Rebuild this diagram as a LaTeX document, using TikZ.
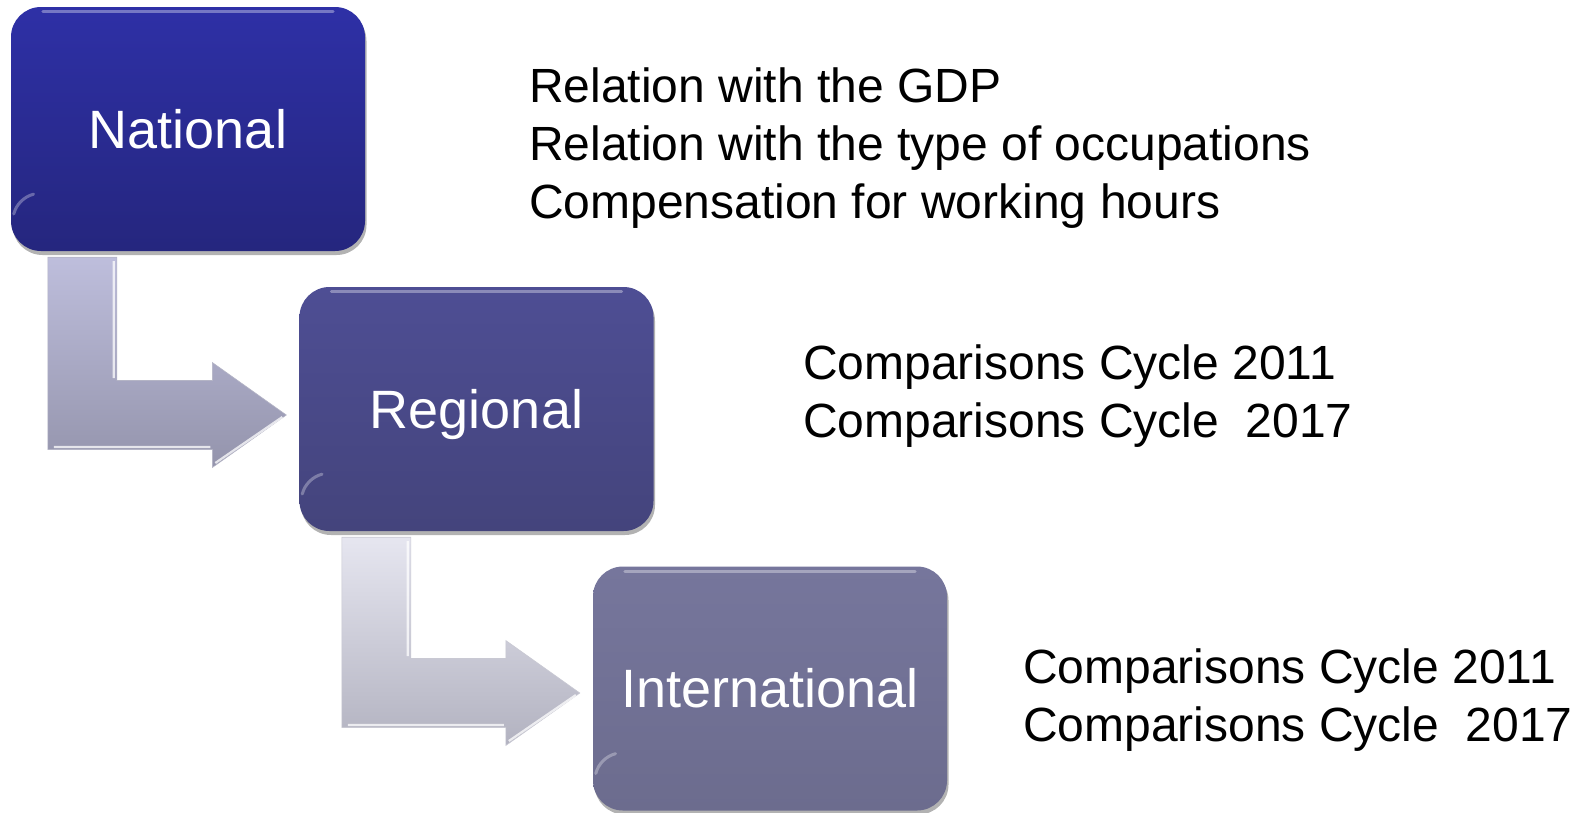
\documentclass[tikz,border=0pt]{standalone}
\usepackage{fontspec}
\setmainfont{Liberation Sans}
\usetikzlibrary{calc,shadows}
\definecolor{natTop}{RGB}{46,48,166}
\definecolor{natBot}{RGB}{37,38,126}
\definecolor{regTop}{RGB}{78,78,148}
\definecolor{regBot}{RGB}{68,68,124}
\definecolor{intTop}{RGB}{118,118,156}
\definecolor{intBot}{RGB}{108,108,142}
\definecolor{arAtop}{RGB}{190,190,220}
\definecolor{arAbot}{RGB}{148,148,172}
\definecolor{arBtop}{RGB}{230,230,240}
\definecolor{arBbot}{RGB}{178,178,192}
\newcommand\mybentarrow[4]{%
  \path[top color=#3, bottom color=#4, draw=#4!70!white, line width=0.6pt]
    let \p1=#1, \p2=#2 in
    (\x1,\y1) -- (\x1+69pt,\y1) -- (\x1+69pt,\y2+34.5pt) -- (\x2-74pt,\y2+34.5pt)
    -- (\x2-74pt,\y2+52.5pt) -- (\x2,\y2) -- (\x2-74pt,\y2-52.5pt)
    -- (\x2-74pt,\y2-34.5pt) -- (\x1,\y2-34.5pt) -- cycle;
  \path[draw=white, opacity=0.75, line width=2.2pt]
    let \p1=#1, \p2=#2 in
    (\x1+66pt,\y1-4pt) -- (\x1+66pt,\y2+37pt)
    (\x1+6pt,\y2-32pt) -- (\x2-76pt,\y2-32pt)
    (\x2-71pt,\y2-48pt) -- (\x2-4pt,\y2-2pt);
}
\begin{document}
\begin{tikzpicture}[x=1pt,y=-1pt,
  levelbox/.style={rectangle, rounded corners=30pt, minimum width=354pt,
    minimum height=244pt, inner sep=0pt, text=white,
    font=\fontsize{54}{60}\selectfont, text height=38.7pt, text depth=0pt,
    drop shadow={shadow xshift=1.5pt, shadow yshift=-4pt, opacity=0.3, fill=black}},
  infotext/.style={anchor=base west, inner sep=0pt, align=left,
    font=\fontsize{48}{58}\selectfont, text=black},
  rim/.style={draw=white, opacity=0.35, line width=3pt, line cap=round}
]
\useasboundingbox (0,0) rectangle (1589,812);
\fill[white] (0,0) rectangle (1589,812);

\node[levelbox, top color=natTop, bottom color=natBot] (nat) at (188,129) {National};
\node[levelbox, top color=regTop, bottom color=regBot] (reg) at (476.5,409) {Regional};
\node[levelbox, top color=intTop, bottom color=intBot] (int) at (770,688.5) {International};

\foreach \b in {nat,reg,int}{
  \draw[rim] ($(\b.north west)+(32,5)$) -- ($(\b.north east)+(-32,5)$);
  \draw[draw=white, opacity=0.3, line width=3pt, line cap=round]
    ($(\b.south west)+(30,-30)$) ++(195:28) arc[start angle=195, end angle=255, radius=28];
}

\mybentarrow{($(nat.south west)+(37,6)$)}{($(reg.west)+(-13,6)$)}{arAtop}{arAbot}
\mybentarrow{($(reg.south west)+(42.5,6)$)}{($(int.west)+(-13,4.5)$)}{arBtop}{arBbot}

\node[infotext] (t1) at (529,218) {Relation with the GDP\\Relation with the type of occupations\\Compensation for working hours};
\node[infotext] (t2) at (803,437) {Comparisons Cycle 2011\\Comparisons Cycle\ \ 2017};
\node[infotext] (t3) at (1023,741) {Comparisons Cycle 2011\\Comparisons Cycle\ \ 2017};
\end{tikzpicture}
\end{document}
